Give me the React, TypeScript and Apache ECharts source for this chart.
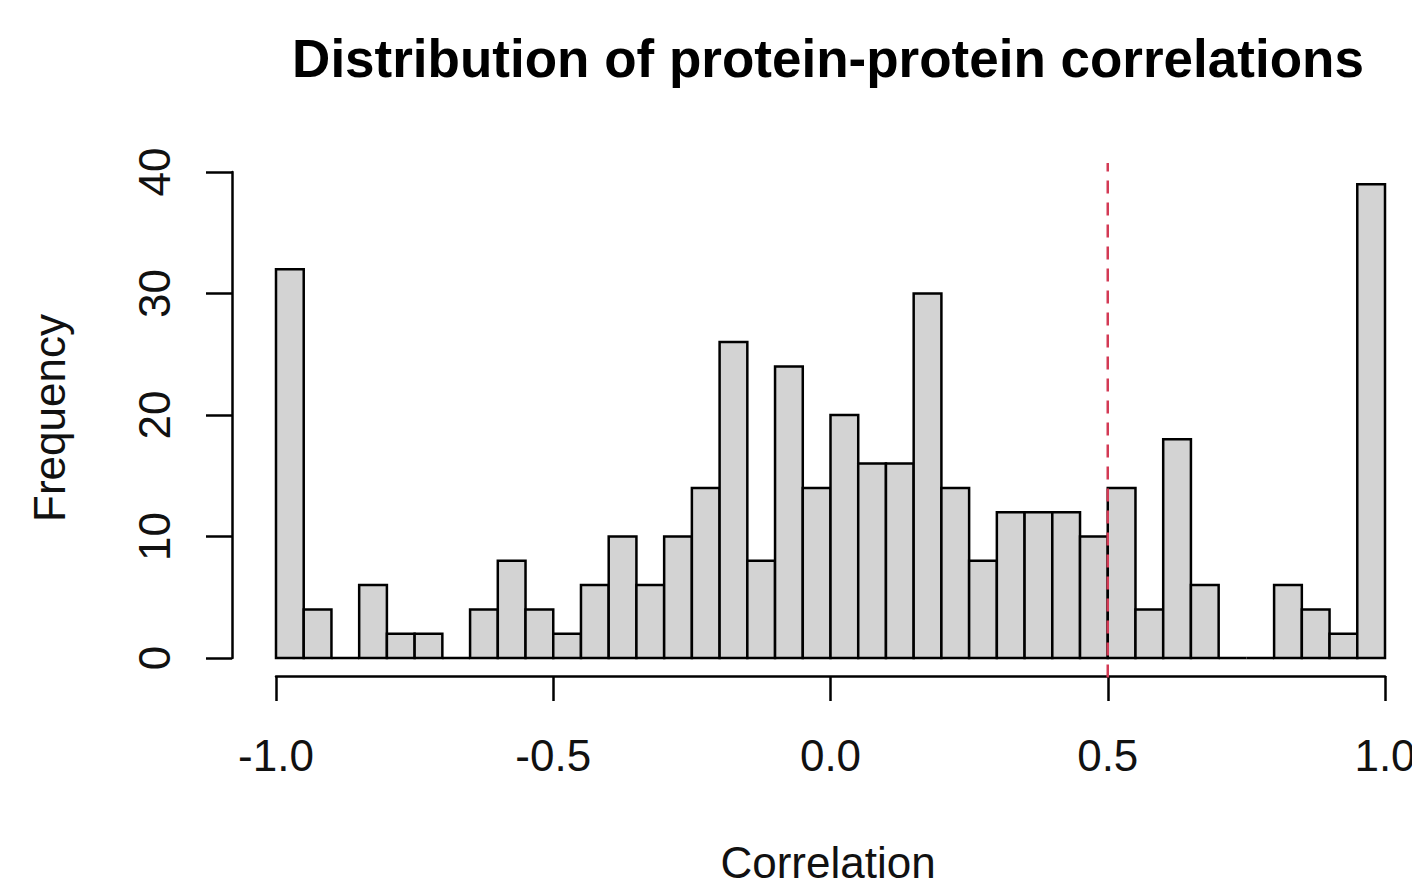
import React, { useEffect, useRef } from 'react';
import * as echarts from 'echarts';

const breaks = [
  -1.0, -0.95, -0.9, -0.85, -0.8, -0.75, -0.7, -0.65, -0.6, -0.55,
  -0.5, -0.45, -0.4, -0.35, -0.3, -0.25, -0.2, -0.15, -0.1, -0.05,
  0.0, 0.05, 0.1, 0.15, 0.2, 0.25, 0.3, 0.35, 0.4, 0.45,
  0.5, 0.55, 0.6, 0.65, 0.7, 0.75, 0.8, 0.85, 0.9, 0.95, 1.0,
];
const counts = [
  32, 4, 0, 6, 2, 2, 0, 4, 8, 4,
  2, 6, 10, 6, 10, 14, 26, 8, 24, 14,
  20, 16, 16, 30, 14, 8, 12, 12, 12, 10,
  14, 4, 18, 6, 0, 0, 6, 4, 2, 39,
];
const cutoff = 0.5;
const cutoffSpan = [-1.6, 40.75];
const titleText = 'Distribution of protein-protein correlations';
const xName = 'Correlation';
const yName = 'Frequency';

const FONT = '"Liberation Sans", Arial, Helvetica, sans-serif';

export default function App() {
  const ref = useRef<HTMLDivElement>(null);
  useEffect(() => {
    document.body.style.margin = '0';
    document.body.style.overflow = 'hidden';
    document.documentElement.style.overflow = 'hidden';
    if (!ref.current) return;
    const chart = echarts.init(ref.current, undefined, { renderer: 'svg', width: 1412, height: 891 });
    const histData = counts.map((c, i) => [breaks[i], breaks[i + 1], c]);
    chart.setOption({
      animation: false,
      backgroundColor: '#ffffff',
      grid: {
        left: 276,
        right: 27,
        top: 172,
        bottom: 233,
        containLabel: false,
        outerBoundsMode: 'none',
      },
      xAxis: {
        type: 'value',
        min: -1,
        max: 1,
        interval: 0.5,
        offset: 18,
        axisLine: { show: true, onZero: false, lineStyle: { color: '#000', width: 2.5 } },
        axisTick: { show: true, length: 25, lineStyle: { color: '#000', width: 2.5 } },
        splitLine: { show: false },
        axisLabel: {
          margin: 57,
          fontSize: 44,
          fontFamily: FONT,
          color: '#111',
          formatter: (v: number) => v.toFixed(1),
        },
      },
      yAxis: {
        type: 'value',
        min: 0,
        max: 40,
        interval: 10,
        offset: 44,
        axisLine: { show: true, onZero: false, lineStyle: { color: '#000', width: 2.5 } },
        axisTick: { show: true, length: 26, lineStyle: { color: '#000', width: 2.5 } },
        splitLine: { show: false },
        axisLabel: {
          rotate: 90,
          margin: 56,
          fontSize: 44,
          fontFamily: FONT,
          color: '#111',
        },
      },
      graphic: [
        {
          type: 'text',
          x: 828,
          y: 58,
          style: {
            text: titleText,
            font: `bold 53px ${FONT}`,
            fill: '#000',
            textAlign: 'center',
            textVerticalAlign: 'middle',
          },
        },
        {
          type: 'text',
          x: 828,
          y: 862,
          style: {
            text: xName,
            font: `44px ${FONT}`,
            fill: '#111',
            textAlign: 'center',
            textVerticalAlign: 'middle',
          },
        },
        {
          type: 'text',
          x: 49,
          y: 418,
          rotation: Math.PI / 2,
          style: {
            text: yName,
            font: `44px ${FONT}`,
            fill: '#111',
            textAlign: 'center',
            textVerticalAlign: 'middle',
          },
        },
      ],
      series: [
        {
          type: 'custom',
          data: histData,
          encode: { x: [0, 1], y: 2 },
          clip: false,
          renderItem: (params: any, api: any) => {
            const p0 = api.coord([api.value(0), api.value(2)]);
            const p1 = api.coord([api.value(1), 0]);
            return {
              type: 'rect',
              shape: { x: p0[0], y: p0[1], width: p1[0] - p0[0], height: p1[1] - p0[1] },
              style: { fill: '#d3d3d3', stroke: '#000', lineWidth: 2.5 },
            };
          },
        },
        {
          type: 'custom',
          data: [[cutoff, cutoffSpan[0], cutoffSpan[1]]],
          encode: { x: 0, y: [1, 2] },
          clip: false,
          z: 5,
          renderItem: (params: any, api: any) => {
            const a = api.coord([api.value(0), api.value(1)]);
            const b = api.coord([api.value(0), api.value(2)]);
            return {
              type: 'line',
              shape: { x1: a[0], y1: a[1], x2: b[0], y2: b[1] },
              style: { stroke: '#D33A55', lineWidth: 2.5, lineDash: [13, 9] },
            };
          },
        },
      ],
    });
    return () => chart.dispose();
  }, []);
  return <div ref={ref} style={{ width: 1412, height: 891 }} />;
}
